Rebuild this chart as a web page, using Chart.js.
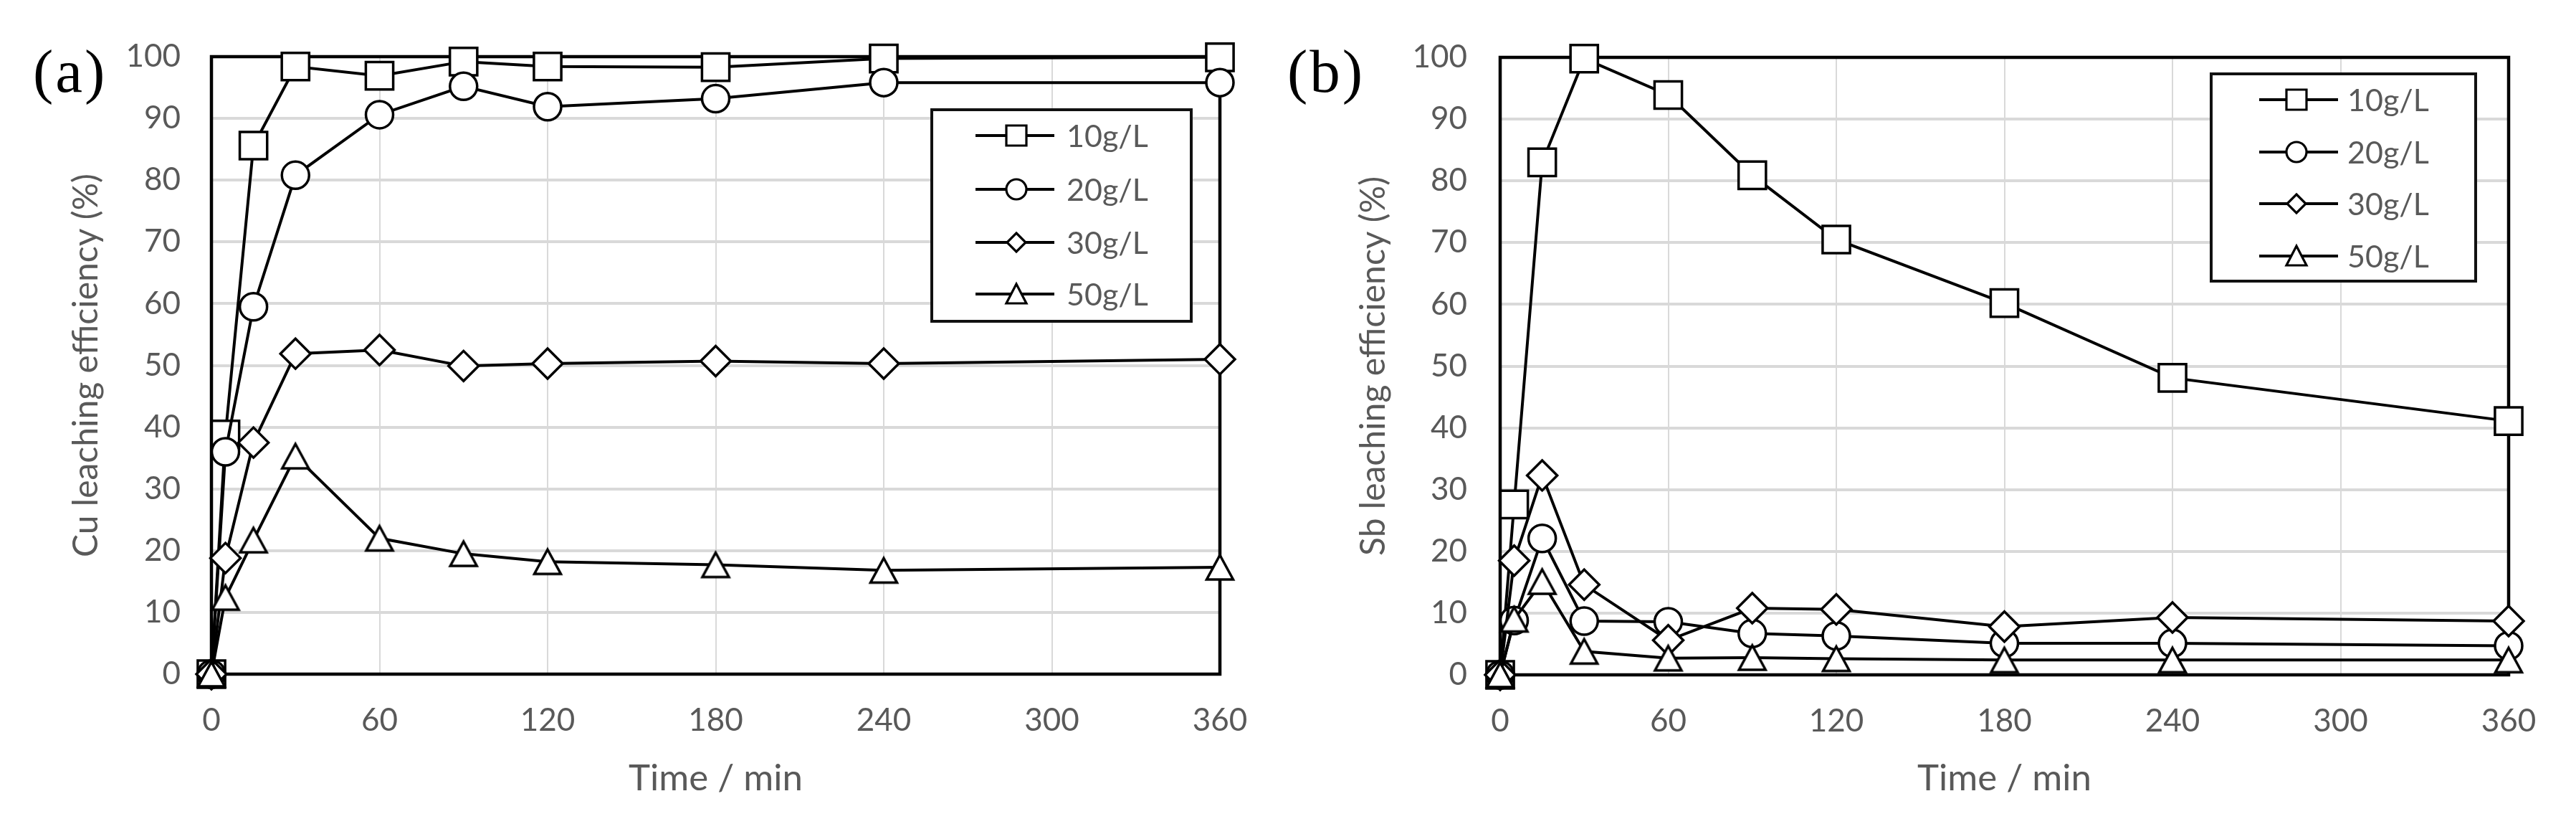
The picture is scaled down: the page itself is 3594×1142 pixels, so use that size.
<!DOCTYPE html>
<html><head><meta charset="utf-8">
<script src="https://cdn.jsdelivr.net/npm/chart.js@4.4.0/dist/chart.umd.min.js"></script>
<style>
html,body{margin:0;padding:0;background:#fff;}
#wrap{position:relative;width:3594px;height:1142px;overflow:hidden;background:#fff;}
canvas{position:absolute;top:0;}
.lab{position:absolute;font-family:'Liberation Serif','Times New Roman',serif;font-size:85px;line-height:1;color:#000;letter-spacing:3px;white-space:nowrap;}
</style></head><body>
<div id="wrap">
<canvas id="ca" width="1790" height="1142" style="left:0"></canvas>
<canvas id="cb" width="1804" height="1142" style="left:1790px"></canvas>
<div class="lab" style="left:46px;top:57px">(a)</div>
<div class="lab" style="left:1796px;top:57px">(b)</div>
</div>
<script>
// ---- data ----
const times = [0, 5, 15, 30, 60, 90, 120, 180, 240, 360];
const seriesLabels = ['10g/L', '20g/L', '30g/L', '50g/L'];
const cu10 = [0, 38.8, 85.6, 98.4, 96.9, 99.2, 98.4, 98.3, 99.7, 99.9];
const cu20 = [0, 36.0, 59.5, 80.8, 90.6, 95.2, 91.9, 93.2, 95.8, 95.8];
const cu30 = [0, 18.8, 37.5, 51.9, 52.5, 49.9, 50.3, 50.7, 50.3, 51.0];
const cu50 = [0, 12.4, 21.7, 35.3, 22.0, 19.5, 18.2, 17.7, 16.8, 17.3];
const sb10 = [0, 27.6, 83.0, 99.8, 93.9, 80.9, 70.5, 60.2, 48.1, 41.1];
const sb20 = [0, 8.8, 22.1, 8.7, 8.6, 6.7, 6.3, 5.1, 5.1, 4.7];
const sb30 = [0, 18.5, 32.3, 14.6, 5.6, 10.8, 10.6, 7.8, 9.3, 8.7];
const sb50 = [0, 9.0, 15.1, 3.8, 2.7, 2.8, 2.6, 2.4, 2.4, 2.4];
const xTickValues = [0, 60, 120, 180, 240, 300, 360];
const yTickValues = [0, 10, 20, 30, 40, 50, 60, 70, 80, 90, 100];
const xTitle = 'Time / min';
const yTitleA = 'Cu leaching efficiency (%)';
const yTitleB = 'Sb leaching efficiency (%)';

// ---- markers ----
function makeTriangle(w, h, lw) {
  const c = document.createElement('canvas');
  c.width = 48; c.height = 48;
  const g = c.getContext('2d');
  const cx = 24, cy = 24;
  g.beginPath();
  g.moveTo(cx, cy - h / 2);
  g.lineTo(cx + w / 2, cy + h / 2);
  g.lineTo(cx - w / 2, cy + h / 2);
  g.closePath();
  g.fillStyle = '#fff'; g.fill();
  g.lineWidth = lw; g.strokeStyle = '#000'; g.lineJoin = 'miter'; g.stroke();
  return c;
}
const triImg = makeTriangle(37, 34, 3.5);
const pointStyles = ['rect', 'circle', 'rectRot', triImg];
const pointRadii = [27, 19, 21, 20];
const legendKinds = ['square', 'circle', 'diamond', 'triangle'];

const GREY = '#595959';
const FONT = "Lato, 'Open Sans', sans-serif";

function drawLegendMarker(ctx, kind, x, y) {
  ctx.save();
  ctx.beginPath();
  if (kind === 'square') { ctx.rect(x - 14, y - 14, 28, 28); }
  else if (kind === 'circle') { ctx.arc(x, y, 14, 0, Math.PI * 2); }
  else if (kind === 'diamond') { ctx.moveTo(x, y - 13); ctx.lineTo(x + 13, y); ctx.lineTo(x, y + 13); ctx.lineTo(x - 13, y); ctx.closePath(); }
  else { ctx.moveTo(x, y - 14); ctx.lineTo(x + 14, y + 13); ctx.lineTo(x - 14, y + 13); ctx.closePath(); }
  ctx.fillStyle = '#fff'; ctx.fill();
  ctx.lineWidth = 3.2; ctx.strokeStyle = '#000'; ctx.stroke();
  ctx.restore();
}

function makeChart(id, seriesArrays, yTitle, geo) {
  const datasets = seriesArrays.map((vals, i) => ({
    label: seriesLabels[i],
    data: times.map((t, k) => ({ x: t, y: vals[k] })),
    borderColor: '#000',
    borderWidth: 4,
    pointStyle: pointStyles[i],
    pointRadius: pointRadii[i],
    pointBackgroundColor: '#fff',
    pointBorderColor: '#000',
    pointBorderWidth: 3.5,
    tension: 0,
    clip: false,
    order: 4 - i
  }));

  const framePlugin = {
    id: 'frame_' + id,
    beforeDatasetsDraw(chart) {
      const { ctx, chartArea: a } = chart;
      ctx.save();
      ctx.strokeStyle = '#000';
      ctx.lineWidth = 4.5;
      ctx.strokeRect(a.left, a.top, a.right - a.left, a.bottom - a.top);
      ctx.restore();
    }
  };
  const legendPlugin = {
    id: 'boxlegend_' + id,
    afterDraw(chart) {
      const ctx = chart.ctx;
      const b = geo.legend;
      ctx.save();
      ctx.fillStyle = '#fff';
      ctx.fillRect(b.box[0], b.box[1], b.box[2] - b.box[0], b.box[3] - b.box[1]);
      ctx.lineWidth = 4;
      ctx.strokeStyle = '#111';
      ctx.strokeRect(b.box[0], b.box[1], b.box[2] - b.box[0], b.box[3] - b.box[1]);
      chart.data.datasets.forEach((ds, i) => {
        const y = b.rows[i];
        ctx.beginPath();
        ctx.moveTo(b.line[0], y); ctx.lineTo(b.line[1], y);
        ctx.lineWidth = 4; ctx.strokeStyle = '#000'; ctx.stroke();
        drawLegendMarker(ctx, legendKinds[i], b.marker, y);
        ctx.fillStyle = GREY;
        ctx.font = '43px ' + FONT;
        ctx.textAlign = 'left';
        ctx.textBaseline = 'alphabetic';
        ctx.fillText(ds.label, b.text, y + 15.5);
      });
      ctx.restore();
    }
  };

  return new Chart(document.getElementById(id), {
    type: 'line',
    data: { datasets },
    options: {
      responsive: false,
      devicePixelRatio: 1,
      animation: false,
      events: [],
      layout: { padding: { left: 0, top: geo.top, right: geo.right, bottom: 0 } },
      plugins: { legend: { display: false }, tooltip: { enabled: false } },
      scales: {
        x: {
          type: 'linear', min: 0, max: 360,
          afterBuildTicks: s => { s.ticks = xTickValues.map(v => ({ value: v })); },
          afterFit: s => { s.height = geo.xh; },
          grid: { color: '#d9d9d9', lineWidth: 2, drawTicks: false },
          border: { display: false },
          ticks: { padding: 38, color: GREY, font: { family: FONT, size: 44 }, maxRotation: 0, autoSkip: false },
          title: { display: true, text: xTitle, color: GREY, font: { family: FONT, size: 51, lineHeight: 1.2 }, padding: { top: 0, bottom: 26 } }
        },
        y: {
          type: 'linear', min: 0, max: 100,
          afterBuildTicks: s => { s.ticks = yTickValues.map(v => ({ value: v })); },
          afterFit: s => { s.width = geo.yw; },
          grid: { color: '#d9d9d9', lineWidth: 4, drawTicks: false },
          border: { display: false },
          ticks: { padding: geo.ypad, color: GREY, font: { family: FONT, size: 44 }, autoSkip: false },
          title: { display: true, text: yTitle, color: GREY, font: { family: FONT, size: 48, lineHeight: 1.2 }, padding: { top: geo.ytp, bottom: 0 } }
        }
      }
    },
    plugins: [framePlugin, legendPlugin]
  });
}

makeChart('ca', [cu10, cu20, cu30, cu50], yTitleA, {
  top: 79, right: 88, xh: 202, yw: 295, ypad: 43, ytp: 92,
  legend: { box: [1300, 153, 1662, 448], rows: [189, 264, 338, 410], line: [1361, 1471], marker: 1418, text: 1488 }
});
makeChart('cb', [sb10, sb20, sb30, sb50], yTitleB, {
  top: 80, right: 94, xh: 201, yw: 303, ypad: 46, ytp: 98,
  legend: { box: [1295, 103, 1664, 392], rows: [139, 212, 284, 357], line: [1362, 1472], marker: 1414, text: 1485 }
});
</script>
</body></html>
